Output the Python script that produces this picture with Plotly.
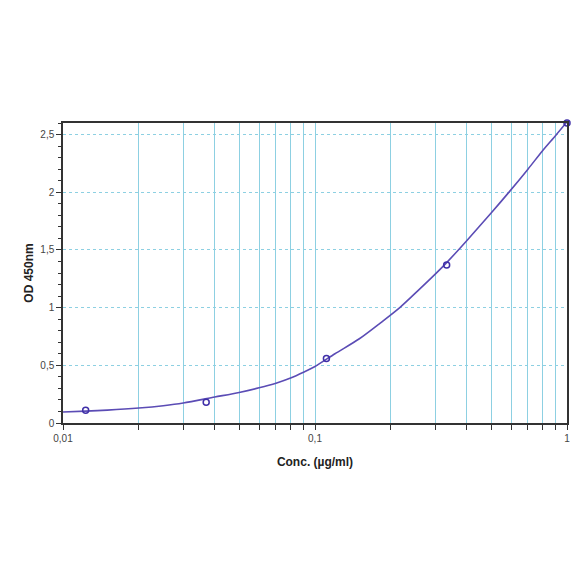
import plotly.graph_objects as go

# Standard points
conc = [0.0123, 0.037, 0.111, 0.333, 1.0]
od = [0.11, 0.18, 0.56, 1.37, 2.60]

# Fitted curve
curve_x = [0.01, 0.0123, 0.015, 0.02, 0.025, 0.03, 0.04, 0.05, 0.06, 0.07,
           0.08, 0.09, 0.1, 0.12, 0.15, 0.18, 0.217, 0.26, 0.3, 0.333, 0.4,
           0.5, 0.583, 0.7, 0.8, 0.9, 1.0]
curve_y = [0.095, 0.103, 0.112, 0.13, 0.15, 0.173, 0.225, 0.265, 0.305, 0.345,
           0.39, 0.44, 0.49, 0.60, 0.73, 0.86, 1.00, 1.16, 1.29, 1.39, 1.58,
           1.82, 1.99, 2.20, 2.36, 2.49, 2.61]

x_tickvals = [0.01, 0.1, 1]
x_ticktext = ["0,01", "0,1", "1"]
x_minor = [0.02, 0.03, 0.04, 0.05, 0.06, 0.07, 0.08, 0.09,
           0.2, 0.3, 0.4, 0.5, 0.6, 0.7, 0.8, 0.9]
y_tickvals = [0, 0.5, 1, 1.5, 2, 2.5]
y_ticktext = ["0", "0,5", "1", "1,5", "2", "2,5"]

grid_col = "#8dd0e2"
line_col = "#5b4cb5"

fig = go.Figure()
fig.add_trace(go.Scatter(x=curve_x, y=curve_y, mode="lines",
                         line=dict(color=line_col, width=1.6, shape="spline", smoothing=0.8),
                         hoverinfo="skip", showlegend=False))
fig.add_trace(go.Scatter(x=conc, y=od, mode="markers",
                         marker=dict(symbol="circle-open", size=6,
                                     color="#3f2fa8", line=dict(width=1.5)),
                         showlegend=False, cliponaxis=False))

fig.update_layout(
    width=576, height=576,
    margin=dict(l=55, r=17, t=115, b=161, autoexpand=False),
    paper_bgcolor="white", plot_bgcolor="white",
    font=dict(family="Liberation Sans, Arial, sans-serif", color="#333333"),
)
fig.update_xaxes(
    type="log", range=[-2, 0], automargin=False,
    tickmode="array", tickvals=x_tickvals, ticktext=x_ticktext,
    ticks="outside", ticklen=5, tickcolor="#333333",
    tickfont=dict(size=10, color="#444444"),
    showgrid=True, gridcolor=grid_col, gridwidth=1,
    minor=dict(tickmode="array", tickvals=x_minor, ticks="outside", ticklen=5,
               tickcolor="#333333", showgrid=True, gridcolor=grid_col, gridwidth=1),
    showline=True, linecolor="#333333", linewidth=1.5, mirror=True,
    zeroline=False,
    title=dict(text="<b>Conc. (µg/ml)</b>", font=dict(size=12, color="#222222"), standoff=15),
)
fig.update_yaxes(
    range=[0, 2.6], automargin=False,
    tickmode="array", tickvals=y_tickvals, ticktext=y_ticktext,
    ticks="outside", ticklen=5, tickcolor="#333333",
    tickfont=dict(size=10, color="#444444"),
    showgrid=True, gridcolor=grid_col, gridwidth=1, griddash="dot",
    minor=dict(dtick=0.1, ticks="outside", ticklen=3, tickcolor="#333333", showgrid=False),
    showline=True, linecolor="#333333", linewidth=1.5, mirror=True,
    zeroline=False,
    title=dict(text="<b>OD 450nm</b>", font=dict(size=12, color="#222222"), standoff=4),
)

fig.write_html("out.html")
